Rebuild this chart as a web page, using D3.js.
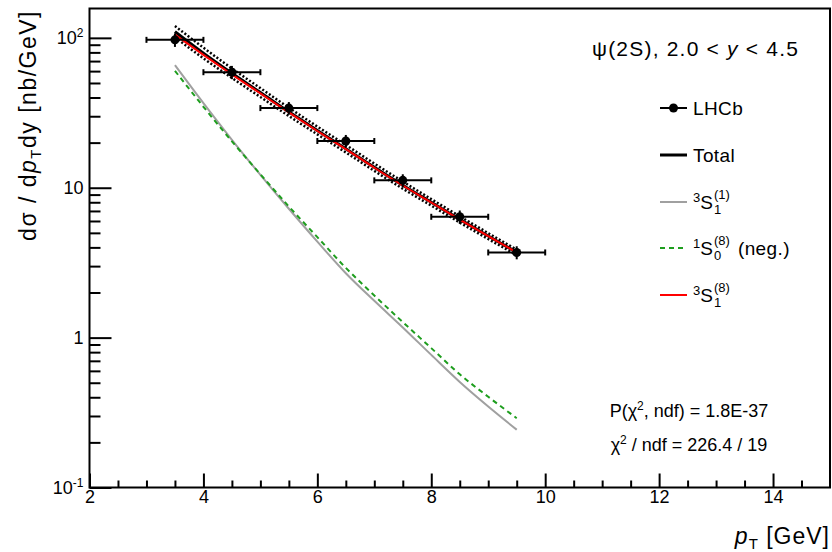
<!DOCTYPE html>
<html>
<head>
<meta charset="utf-8">
<script src="https://cdn.jsdelivr.net/npm/d3@7"></script>
<style>
  body { margin: 0; background: #fff; }
  svg { display: block; font-family: "Liberation Sans", Arial, sans-serif; }
</style>
</head>
<body>
<div id="chart"></div>
<script>
// psi(2S) cross section, 2.0 < y < 4.5 — LHCb points vs NRQCD curves
const lhcbPt   = [3.5, 4.5, 5.5, 6.5, 7.5, 8.5, 9.5];
const lhcbVal  = [97, 59, 34, 20.5, 11.2, 6.4, 3.7];
const lhcbErrY = [10, 6, 3.3, 2.0, 1.1, 0.65, 0.37];
const lhcbErrX = [0.5, 0.5, 0.5, 0.5, 0.5, 0.5, 0.5];

const curvePt  = [3.5, 4, 4.5, 5, 5.5, 6, 6.5, 7, 7.5, 8, 8.5, 9, 9.5];
const totalVal = [110, 79, 58, 43.2, 32.1, 24.1, 18.2, 13.7, 10.4, 8.0, 6.15, 4.76, 3.71];
const totalUp  = [120, 86, 62.5, 46.2, 34.2, 25.6, 19.3, 14.5, 11.0, 8.4, 6.45, 4.98, 3.87];
const totalLo  = [101, 73, 54, 40.3, 30.1, 22.7, 17.2, 12.95, 9.85, 7.6, 5.86, 4.55, 3.55];
const s31Val   = [65.8, 36.7, 20.9, 12.2, 7.24, 4.37, 2.69, 1.76, 1.17, 0.767, 0.506, 0.347, 0.243];
const s18Val   = [60.3, 34.7, 20.4, 12.3, 7.5, 4.68, 2.92, 1.91, 1.27, 0.851, 0.569, 0.403, 0.29];
const s38Val   = [105, 77, 57, 42.6, 31.8, 23.9, 18.1, 13.6, 10.35, 7.97, 6.13, 4.75, 3.7];

const xMajor = [2, 4, 6, 8, 10, 12, 14];
const yMajor = [0.1, 1, 10, 100];

const W = 832, H = 552;
const L = 89.5, R = 830, T = 8.5, B = 487.5;

const svg = d3.select("#chart").append("svg")
  .attr("width", W).attr("height", H);

const x = d3.scaleLinear().domain([2, 15]).range([L, R]);
const y = d3.scaleLog().domain([0.1, 157]).range([B, T]);

// minor ticks
const xMinor = d3.range(2.5, 15, 0.5).filter(v => v % 2 !== 0);
const yMinor = [];
[0.1, 1, 10, 100].forEach(d => {
  for (let k = 2; k <= 9; k++) if (d * k < 157) yMinor.push(d * k);
});

// x axis
const gx = svg.append("g").attr("transform", `translate(0,${B})`)
  .call(d3.axisBottom(x).tickValues(xMajor).tickSize(-14).tickPadding(3).tickFormat(d3.format("d")));
gx.select(".domain").remove();
gx.selectAll("line").attr("stroke-width", 2);
gx.selectAll("text").attr("font-size", 18).attr("fill", "#000");

const gxm = svg.append("g").attr("transform", `translate(0,${B})`)
  .call(d3.axisBottom(x).tickValues(xMinor).tickSize(-7).tickFormat(""));
gxm.select(".domain").remove();
gxm.selectAll("line").attr("stroke-width", 2);

// y axis
const gy = svg.append("g").attr("transform", `translate(${L},0)`)
  .call(d3.axisLeft(y).tickValues(yMajor).tickSize(-22).tickPadding(6).tickFormat(""));
gy.select(".domain").remove();
gy.selectAll("line").attr("stroke-width", 2);
gy.selectAll(".tick").each(function(d) {
  const t = d3.select(this).select("text").attr("font-size", 18).attr("fill", "#000").text(null);
  if (d === 1) { t.text("1"); return; }
  t.append("tspan").text("10");
  const e = Math.round(Math.log10(d));
  if (e !== 1) t.append("tspan").attr("font-size", 12).attr("dy", "-0.6em").text(e);
});

const gym = svg.append("g").attr("transform", `translate(${L},0)`)
  .call(d3.axisLeft(y).tickValues(yMinor).tickSize(-11).tickFormat(""));
gym.select(".domain").remove();
gym.selectAll("line").attr("stroke-width", 2);

// frame
svg.append("rect").attr("x", L).attr("y", T).attr("width", R - L).attr("height", B - T)
  .attr("fill", "none").attr("stroke", "#000").attr("stroke-width", 2);

// curves
const line = vals => d3.line()
  .x((d, i) => x(curvePt[i])).y(d => y(d))
  .curve(d3.curveMonotoneX)(vals);

svg.append("path").attr("d", line(s31Val)).attr("fill", "none")
  .attr("stroke", "#a0a0a0").attr("stroke-width", 2);
svg.append("path").attr("d", line(s18Val)).attr("fill", "none")
  .attr("stroke", "#1e9e1e").attr("stroke-width", 2).attr("stroke-dasharray", "5,4");
[totalUp, totalLo].forEach(v => {
  svg.append("path").attr("d", line(v)).attr("fill", "none")
    .attr("stroke", "#000").attr("stroke-width", 2.5).attr("stroke-dasharray", "2,2");
});
svg.append("path").attr("d", line(totalVal)).attr("fill", "none")
  .attr("stroke", "#000").attr("stroke-width", 3);
svg.append("path").attr("d", line(s38Val)).attr("fill", "none")
  .attr("stroke", "#ff0000").attr("stroke-width", 2);

// LHCb points
const pts = lhcbPt.map((p, i) => ({ p: p, v: lhcbVal[i], ey: lhcbErrY[i], ex: lhcbErrX[i] }));
const gp = svg.append("g").attr("stroke", "#000").attr("stroke-width", 2);
pts.forEach(d => {
  const cx = x(d.p), cy = y(d.v);
  gp.append("line").attr("x1", x(d.p - d.ex)).attr("x2", x(d.p + d.ex)).attr("y1", cy).attr("y2", cy);
  gp.append("line").attr("x1", x(d.p - d.ex)).attr("x2", x(d.p - d.ex)).attr("y1", cy - 3).attr("y2", cy + 3);
  gp.append("line").attr("x1", x(d.p + d.ex)).attr("x2", x(d.p + d.ex)).attr("y1", cy - 3).attr("y2", cy + 3);
  gp.append("line").attr("x1", cx).attr("x2", cx).attr("y1", y(d.v + d.ey)).attr("y2", y(d.v - d.ey));
});
svg.append("g").selectAll("circle").data(pts).enter().append("circle")
  .attr("cx", d => x(d.p)).attr("cy", d => y(d.v)).attr("r", 4.5).attr("fill", "#000");

// title
const tt = svg.append("text").attr("x", 592).attr("y", 56).attr("font-size", 21)
  .attr("letter-spacing", 1.2);
tt.append("tspan").text("\u03c8(2S), 2.0 < ");
tt.append("tspan").attr("font-style", "italic").text("y");
tt.append("tspan").text(" < 4.5");

// legend
const legRows = [108, 155, 202, 248, 295];
const lx1 = 660, lx2 = 687, tx = 693;
function stateLabel(g, yy, pre, sub, sup, tail) {
  const t = g.append("text").attr("x", tx).attr("y", yy + 7).attr("font-size", 19);
  t.append("tspan").attr("font-size", 13).attr("dy", -7).text(pre);
  t.append("tspan").attr("dy", 7).text("S");
  const w = t.node().getComputedTextLength();
  g.append("text").attr("x", tx + w + 1).attr("y", yy + 12).attr("font-size", 13).text(sub);
  g.append("text").attr("x", tx + w + 1).attr("y", yy - 3).attr("font-size", 13).text(sup);
  if (tail) g.append("text").attr("x", tx + w + 25).attr("y", yy + 7).attr("font-size", 19)
    .attr("letter-spacing", 0.4).text(tail);
}
const lg = svg.append("g");
lg.append("line").attr("x1", lx1).attr("x2", lx2).attr("y1", legRows[0]).attr("y2", legRows[0])
  .attr("stroke", "#000").attr("stroke-width", 2);
lg.append("circle").attr("cx", (lx1 + lx2) / 2).attr("cy", legRows[0]).attr("r", 4.5);
lg.append("text").attr("x", tx).attr("y", legRows[0] + 7).attr("font-size", 19)
  .attr("letter-spacing", 0.4).text("LHCb");
lg.append("line").attr("x1", lx1).attr("x2", lx2).attr("y1", legRows[1]).attr("y2", legRows[1])
  .attr("stroke", "#000").attr("stroke-width", 3);
lg.append("text").attr("x", tx).attr("y", legRows[1] + 7).attr("font-size", 19)
  .attr("letter-spacing", 0.4).text("Total");
lg.append("line").attr("x1", lx1).attr("x2", lx2).attr("y1", legRows[2]).attr("y2", legRows[2])
  .attr("stroke", "#a0a0a0").attr("stroke-width", 2);
stateLabel(lg, legRows[2], "3", "1", "(1)");
lg.append("line").attr("x1", lx1).attr("x2", lx2).attr("y1", legRows[3]).attr("y2", legRows[3])
  .attr("stroke", "#1e9e1e").attr("stroke-width", 2).attr("stroke-dasharray", "5,4");
stateLabel(lg, legRows[3], "1", "0", "(8)", "(neg.)");
lg.append("line").attr("x1", lx1).attr("x2", lx2).attr("y1", legRows[4]).attr("y2", legRows[4])
  .attr("stroke", "#ff0000").attr("stroke-width", 2);
stateLabel(lg, legRows[4], "3", "1", "(8)");

// fit statistics
const st1 = svg.append("text").attr("x", 689).attr("y", 417).attr("font-size", 18)
  .attr("text-anchor", "middle");
st1.append("tspan").text("P(\u03c7");
st1.append("tspan").attr("font-size", 12).attr("dy", -7).text("2");
st1.append("tspan").attr("dy", 7).text(", ndf) = 1.8E-37");
const st2 = svg.append("text").attr("x", 689).attr("y", 451).attr("font-size", 18)
  .attr("text-anchor", "middle");
st2.append("tspan").text("\u03c7");
st2.append("tspan").attr("font-size", 12).attr("dy", -7).text("2");
st2.append("tspan").attr("dy", 7).text(" / ndf = 226.4 / 19");

// axis titles
const xt = svg.append("text").attr("x", 830).attr("y", 544).attr("text-anchor", "end")
  .attr("font-size", 23).attr("letter-spacing", 1);
xt.append("tspan").attr("font-style", "italic").text("p");
xt.append("tspan").attr("font-size", 15).attr("dy", 5).text("T");
xt.append("tspan").attr("dy", -5).text(" [GeV]");

const yt = svg.append("text").attr("transform", "translate(36,10) rotate(-90)")
  .attr("text-anchor", "end").attr("font-size", 23).attr("letter-spacing", 1.5);
yt.append("tspan").text("d\u03c3 / d");
yt.append("tspan").attr("font-style", "italic").text("p");
yt.append("tspan").attr("font-size", 15).attr("dy", 5).text("T");
yt.append("tspan").attr("dy", -5).text("dy  [nb/GeV]");
</script>
</body>
</html>
